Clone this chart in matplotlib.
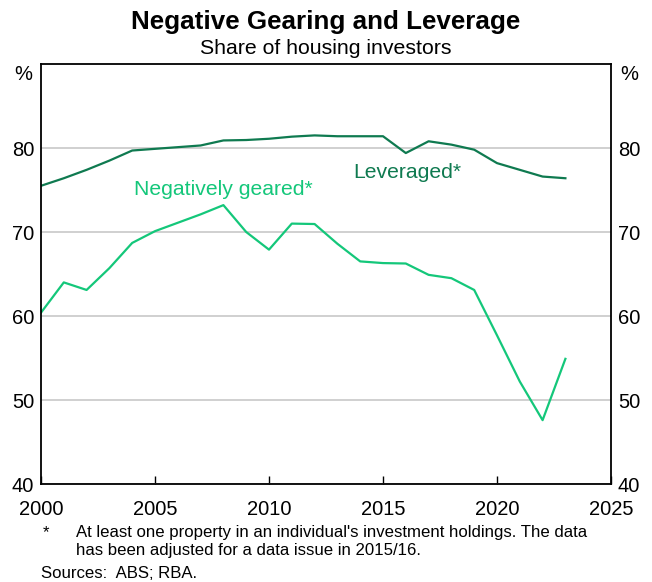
import matplotlib
matplotlib.use("Agg")
import matplotlib.pyplot as plt

plt.rcParams['font.family'] = ['Liberation Sans', 'DejaVu Sans']

years = list(range(2000, 2024))
leveraged = [75.5, 76.4, 77.4, 78.5, 79.7, 79.9, 80.1, 80.3, 80.9, 80.95,
             81.1, 81.35, 81.5, 81.4, 81.4, 81.4, 79.4, 80.8, 80.4, 79.8,
             78.2, 77.4, 76.6, 76.4]
neg_geared = [60.4, 64.0, 63.1, 65.7, 68.7, 70.1, 71.1, 72.1, 73.2, 70.0,
              67.9, 71.0, 70.95, 68.6, 66.5, 66.3, 66.25, 64.9, 64.5, 63.1,
              57.7, 52.2, 47.6, 54.9]
y_ticks = [40, 50, 60, 70, 80]
x_ticks = [2000, 2005, 2010, 2015, 2020, 2025]

dark_green = '#0f7a50'
light_green = '#14c77a'

fig = plt.figure(figsize=(6.52, 5.82), dpi=100)
ax = fig.add_axes([41/652, 1 - 484/582, (611-41)/652, (484-64)/582])

ax.plot(years, leveraged, color=dark_green, lw=1.6)
ax.plot(years, neg_geared, color=light_green, lw=1.6)

ax.set_xlim(2000, 2025)
ax.set_ylim(40, 90)
ax.set_yticks(y_ticks)
ax.set_xticks(x_ticks)
ax.grid(axis='y', color='#c8c8c8', lw=1.2)
ax.set_axisbelow(True)
for s in ax.spines.values():
    s.set_linewidth(1.3)
    s.set_color('black')

ax.tick_params(axis='y', which='both', length=0, labelsize=14.5, pad=5,
               left=False, right=False, labelleft=True, labelright=True)
ax.tick_params(axis='x', direction='in', length=6, width=1, labelsize=14.5,
               pad=11.5, top=False)

ax.text(-0.0158, 0.974, '%', transform=ax.transAxes, ha='right', va='center',
        fontsize=14.5)
ax.text(1.0158, 0.974, '%', transform=ax.transAxes, ha='left', va='center',
        fontsize=14.5)

ax.text(2016.05, 77.1, 'Leveraged*', color=dark_green, fontsize=15.2,
        ha='center', va='center')
ax.text(2008.0, 75.1, 'Negatively geared*', color=light_green, fontsize=15.2,
        ha='center', va='center')

fig.text(0.5, 1 - 22/582, 'Negative Gearing and Leverage', ha='center',
         va='center', fontsize=18.7, fontweight='bold')
fig.text(0.5, 1 - 48/582, 'Share of housing investors', ha='center',
         va='center', fontsize=15.3)

fig.text(43/652, 1 - 533/582, '*', ha='left', va='center', fontsize=12.1)
fig.text(76/652, 1 - 533/582,
         "At least one property in an individual's investment holdings. The data",
         ha='left', va='center', fontsize=12.1)
fig.text(76/652, 1 - 551/582, 'has been adjusted for a data issue in 2015/16.',
         ha='left', va='center', fontsize=12.1)
fig.text(41/652, 1 - 573/582, 'Sources:  ABS; RBA.', ha='left', va='center',
         fontsize=12.1)

fig.savefig('out.png', dpi=100)
